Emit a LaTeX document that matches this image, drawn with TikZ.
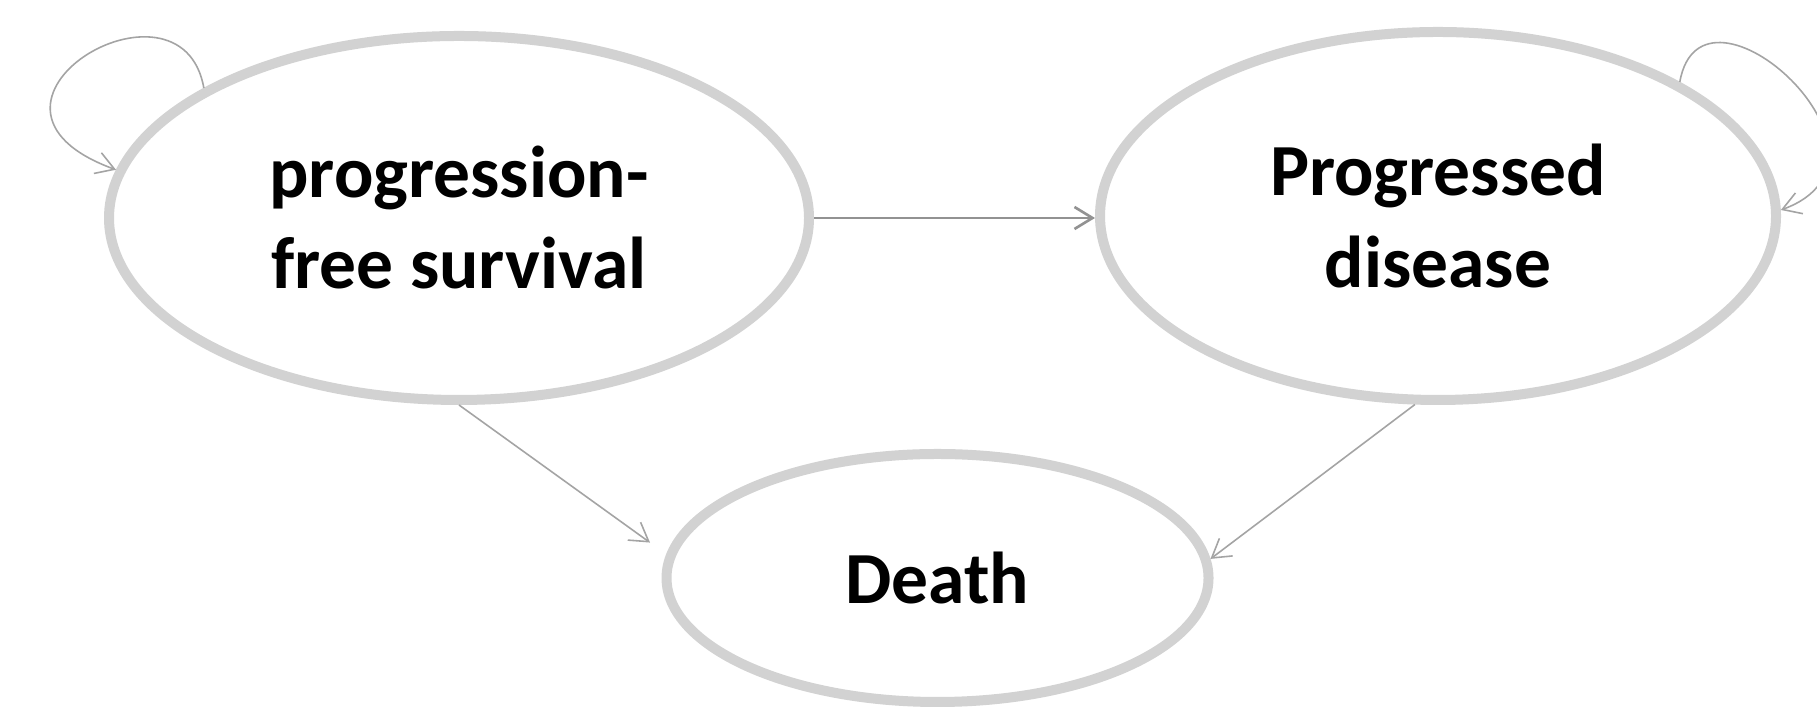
\documentclass[tikz,border=0pt]{standalone}
\usepackage{fontspec}
\setmainfont{Carlito}
\usetikzlibrary{shapes.geometric,arrows.meta}
\definecolor{ringgray}{HTML}{D2D2D2}
\definecolor{linkgray}{HTML}{A4A4A4}
\definecolor{maingray}{HTML}{929292}
\tikzset
{
  state/.style={ellipse,draw=ringgray,line width=1mm,inner sep=0pt,align=center,
    font=\fontsize{20.9}{25.9}\selectfont\bfseries},
  link/.style={linkgray,line width=0.45pt,-{Straight Barb[length=1.8mm,width=2.2mm]}},
  mainlink/.style={link,maingray,line width=0.75pt}
}
\begin{document}
\begin{tikzpicture}
\useasboundingbox[fill=white] (0,0) rectangle (18.17,7.14);
\node[state,minimum width=7.00cm,minimum height=3.64cm] (pfs)   at (4.59,4.96)  {progression-\\free survival};
\node[state,minimum width=6.76cm,minimum height=3.68cm] (pd)    at (14.38,4.98) {Progressed\\disease};
\node[state,minimum width=5.42cm,minimum height=2.48cm] (death) at (9.375,1.36) {Death};
%transitions between states
\draw[mainlink] (pfs.east) -- (pfs.east -| pd.west);
\draw[link,shorten >=2mm] (pfs.south) -- (death.175);
\draw[link] (pd.263) -- (death.4);
%staying in the same state
\draw[link] (pfs.153) to[out=100,in=160,out distance=1.3cm,in distance=1.9cm] (pfs.172);
\draw[link] (pd.29) to[out=80,in=20,out distance=1.25cm,in distance=1.5cm] (pd.1);
\end{tikzpicture}
\end{document}
